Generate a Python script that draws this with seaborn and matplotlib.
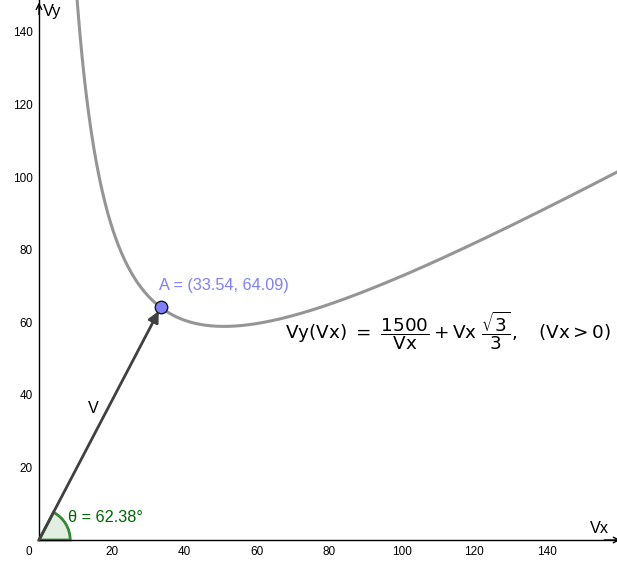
import numpy as np
import pandas as pd
import matplotlib
matplotlib.use("Agg")
import matplotlib.pyplot as plt
from matplotlib.patches import Wedge
import seaborn as sns

# Data (from the function shown on the chart)
coef_a = 1500.0
coef_b = np.sqrt(3) / 3
vx_values = np.linspace(9.5, 162, 600)
vy_values = coef_a / vx_values + vx_values * coef_b
point_A = (33.54, 64.09)
theta_deg = 62.38
x_ticks = [20, 40, 60, 80, 100, 120, 140]
y_ticks = [20, 40, 60, 80, 100, 120, 140]

sns.set_style("white")
plt.rcParams['font.family'] = ['Liberation Sans', 'DejaVu Sans']
plt.rcParams['mathtext.fontset'] = 'dejavusans'
plt.rcParams['text.color'] = 'black'

fig = plt.figure(figsize=(6.17, 5.61), dpi=100)
ax = fig.add_axes([0, 0, 1, 1])
ax.set_xlim(-10.75, 159.3)
ax.set_ylim(-5.79, 148.8)

df = pd.DataFrame({"Vx": vx_values, "Vy": vy_values})
sns.lineplot(data=df, x="Vx", y="Vy", ax=ax, color="#959595", lw=2.2, sort=False, zorder=3)

# axes through origin
for s in ["top", "right"]:
    ax.spines[s].set_visible(False)
ax.spines["left"].set_position(("data", 0))
ax.spines["bottom"].set_position(("data", 0))
ax.spines["left"].set_bounds(0, 148.8)
ax.spines["bottom"].set_bounds(0, 159.3)
for s in ["left", "bottom"]:
    ax.spines[s].set_color("black")
    ax.spines[s].set_linewidth(1.0)
ax.set_xticks(x_ticks)
ax.set_yticks(y_ticks)
ax.tick_params(axis="both", direction="out", length=2.5, width=1, labelsize=8.5, pad=2, colors="black")
ax.set_xlabel("")
ax.set_ylabel("")

# axis arrows
ax.annotate("", xy=(0, 148.9), xytext=(0, 144), annotation_clip=False,
            arrowprops=dict(arrowstyle="->", color="black", lw=1, mutation_scale=10))
ax.annotate("", xy=(161, 0), xytext=(155, 0), annotation_clip=False,
            arrowprops=dict(arrowstyle="->", color="black", lw=1, mutation_scale=10))
ax.text(1.0, 147.6, "Vy", fontsize=11.7, va="top", ha="left")
ax.text(151.8, 1.0, "Vx", fontsize=11.7, va="bottom", ha="left")
ax.text(-1.8, -1.6, "0", fontsize=8.5, va="top", ha="right")

# angle wedge
w = Wedge((0, 0), 8.6, 0, theta_deg, facecolor="#e2eee2", edgecolor="#338833", lw=2, zorder=2)
ax.add_patch(w)
ax.text(8.0, 6.2, "θ = 62.38°", color="#006400", fontsize=11.7, va="center", ha="left")

# vector V
ax.annotate("", xy=point_A, xytext=(0, 0),
            arrowprops=dict(arrowstyle="-|>", color="#404040", lw=2, mutation_scale=16,
                            shrinkA=0, shrinkB=3), zorder=4)
ax.text(14.9, 36.3, "V", fontsize=11.7, va="center", ha="center")

# point A
ax.plot([point_A[0]], [point_A[1]], "o", ms=9, mfc="#7f7fff", mec="#1a1a1a", mew=1, zorder=5)
ax.text(33.0, 68.0, "A = (33.54, 64.09)", color="#7f7fff", fontsize=11.7, va="bottom", ha="left")

# formula
ax.text(67.8, 57.8,
        r"$\mathsf{Vy(Vx)}\ =\ \dfrac{1500}{\mathsf{Vx}} + \mathsf{Vx}\ \dfrac{\sqrt{3}}{3},\quad (\mathsf{Vx} > 0)$",
        fontsize=13.2, va="center", ha="left", color="black")

fig.savefig("out.png", dpi=100)
